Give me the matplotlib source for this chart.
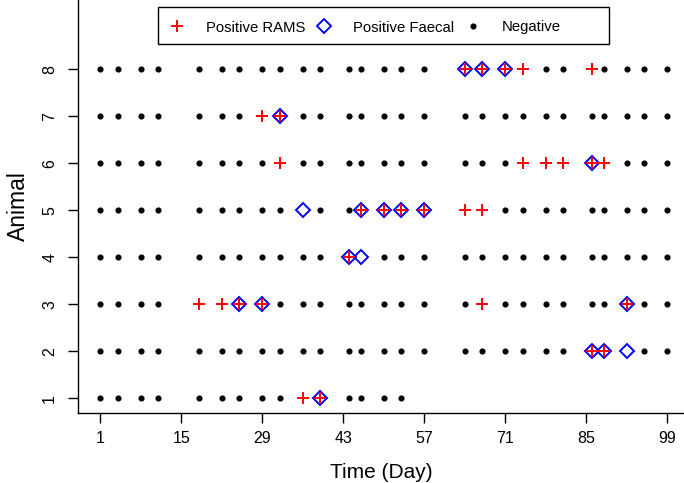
import matplotlib.pyplot as plt
from matplotlib.patches import Rectangle

plt.rcParams['font.family'] = ['Liberation Sans', 'DejaVu Sans']

# sampling days and last sampled day for each animal
sample_days = [1, 4, 8, 11, 18, 22, 25, 29, 32, 36, 39, 44, 46, 50, 53, 57,
               64, 67, 71, 74, 78, 81, 86, 88, 92, 95, 99]
animals = [1, 2, 3, 4, 5, 6, 7, 8]
last_day = [53, 99, 99, 99, 99, 99, 99, 99]

# positive results per animal (index 0 = animal 1)
rams_pos = [
    [36, 39],
    [86, 88],
    [18, 22, 25, 29, 67, 92],
    [44],
    [46, 50, 53, 57, 64, 67],
    [32, 74, 78, 81, 86, 88],
    [29, 32],
    [64, 67, 71, 74, 86],
]
faecal_pos = [
    [39],
    [86, 88, 92],
    [25, 29, 92],
    [44, 46],
    [36, 46, 50, 53, 57],
    [86],
    [32],
    [64, 67, 71],
]
x_ticks = [1, 15, 29, 43, 57, 71, 85, 99]

W, H = 684, 483
fig = plt.figure(figsize=(W / 100, H / 100), dpi=100)
ax = fig.add_axes([78 / W, 70 / H, 606 / W, 413 / H])

for i, a in enumerate(animals):
    days = [d for d in sample_days if d <= last_day[i]]
    neg = [d for d in days if d not in rams_pos[i] and d not in faecal_pos[i]]
    lab = 'Negative' if i == 0 else None
    ax.plot(neg, [a] * len(neg), 'o', color='black', ms=3.4, ls='none', label=lab)

for i, a in enumerate(animals):
    lab = 'Positive Faecal' if i == 0 else None
    ax.plot(faecal_pos[i], [a] * len(faecal_pos[i]), 'D', mfc='none', mec='#0000FF',
            mew=1.4, ms=7.0, ls='none', label=lab)

for i, a in enumerate(animals):
    lab = 'Positive RAMS' if i == 0 else None
    ax.plot(rams_pos[i], [a] * len(rams_pos[i]), '+', color='#FF0000',
            mew=1.4, ms=8.5, ls='none', label=lab)

ax.set_xlim(-2.854, 101.88)
ax.set_ylim(0.687, 9.474)
ax.set_xticks(x_ticks)
ax.set_yticks(animals)
ax.set_yticklabels([str(a) for a in animals], rotation=90, va='center')
ax.tick_params(axis='both', direction='out', length=7, width=1, labelsize=11.5)
ax.tick_params(axis='x', pad=6)
ax.tick_params(axis='y', pad=8)
for s in ['top', 'right']:
    ax.spines[s].set_visible(False)
for s in ['left', 'bottom']:
    ax.spines[s].set_linewidth(1.0)

ax.set_xlabel('Time (Day)', fontsize=15, labelpad=12)
ax.set_ylabel('Animal', fontsize=16.5, labelpad=9)

handles, labels = ax.get_legend_handles_labels()
order = [labels.index('Positive RAMS'), labels.index('Positive Faecal'), labels.index('Negative')]
leg = ax.legend([handles[k] for k in order], [labels[k] for k in order],
                loc='center left', bbox_to_anchor=(166.2 / W, 1 - 27.5 / H),
                bbox_transform=fig.transFigure, ncol=3,
                fontsize=10.7, frameon=False,
                handlelength=1.5, handletextpad=1.16, columnspacing=0.55,
                borderpad=0, borderaxespad=0)
fig.add_artist(Rectangle((158 / W, 1 - 44 / H), 451 / W, 37 / H,
                         transform=fig.transFigure, fill=False,
                         edgecolor='black', lw=1.0))

fig.savefig('out.png', dpi=100)
